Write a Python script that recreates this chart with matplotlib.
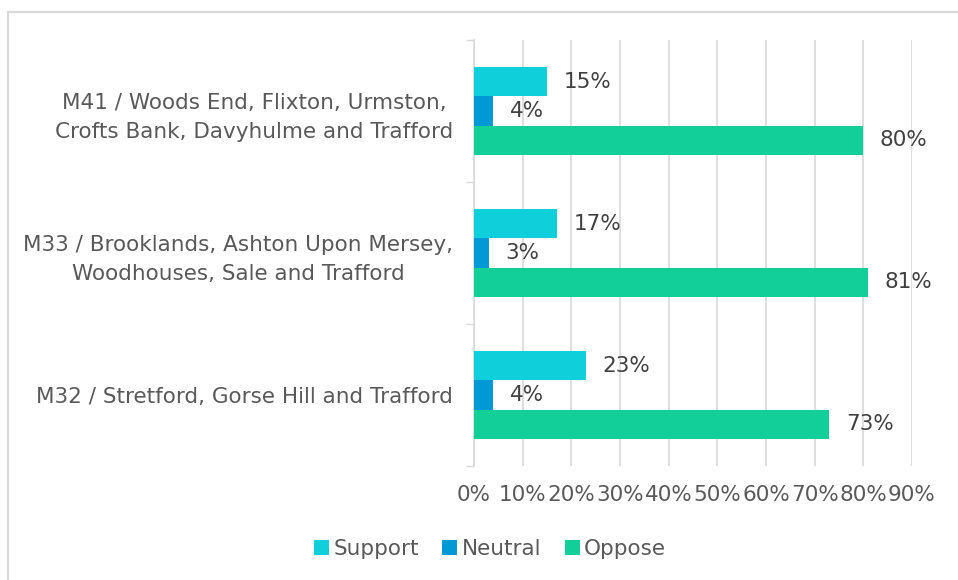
import matplotlib
matplotlib.use("Agg")
import matplotlib.pyplot as plt
from matplotlib.lines import Line2D
import numpy as np

# data
areas = ["M41 / Woods End, Flixton, Urmston,\nCrofts Bank, Davyhulme and Trafford",
         "M33 / Brooklands, Ashton Upon Mersey,\nWoodhouses, Sale and Trafford",
         "M32 / Stretford, Gorse Hill and Trafford"]
support = [15, 17, 23]
neutral = [4, 3, 4]
oppose = [80, 81, 73]
series_names = ["Support", "Neutral", "Oppose"]
colors = ["#0FCFDA", "#0099D6", "#12CF98"]

text_col = "#595959"
label_col = "#404040"
grid_col = "#D9D9D9"
fs = 15.5
plt.rcParams['font.family'] = ['DejaVu Sans']

fig = plt.figure(figsize=(9.58, 5.8), dpi=100)
ax = fig.add_axes([474/958, 1-466/580, (912-474)/958, (466-40)/580])

y = np.arange(len(areas))
h = 0.205
for k, (vals, name, c) in enumerate(zip([support, neutral, oppose], series_names, colors)):
    pos = y + (k-1)*h
    ax.barh(pos, vals, height=h, color=c, label=name, zorder=3)
    for p, v in zip(pos, vals):
        ax.annotate(f"{v}%", (v, p), xytext=(12, 0), textcoords="offset points",
                    va="center", ha="left", fontsize=fs, color=label_col)

ax.set_xlim(0, 90)
ax.set_ylim(2.5, -0.5)
ax.set_xticks(np.arange(0, 91, 10))
ax.set_xticklabels([f"{t}%" for t in range(0, 91, 10)])
ax.set_yticks(y)
ax.set_yticklabels(areas, multialignment="center", linespacing=1.55)
ax.set_yticks([-0.5, 0.5, 1.5, 2.5], minor=True)
ax.tick_params(axis="y", which="major", length=0, pad=15, labelsize=fs, labelcolor=text_col)
ax.tick_params(axis="y", which="minor", length=6, color=grid_col, width=1)
ax.tick_params(axis="x", length=0, pad=14, labelsize=fs, labelcolor=text_col)
ax.grid(axis="x", color=grid_col, lw=1.2, zorder=0)
for s in ["top", "right", "bottom"]:
    ax.spines[s].set_visible(False)
ax.spines["left"].set_color(grid_col)
ax.spines["left"].set_linewidth(1.2)

fig.legend(loc="center", bbox_to_anchor=(490/958, 1-549/580), ncol=3, frameon=False,
           fontsize=fs, labelcolor=text_col, handlelength=0.7, handleheight=0.7,
           handletextpad=0.2, columnspacing=1.1)

# chart frame (only top and left edges visible)
fig.add_artist(Line2D([8/958, 8/958], [0, 1-12/580], color=grid_col, lw=1.5))
fig.add_artist(Line2D([8/958, 1], [1-12/580, 1-12/580], color=grid_col, lw=1.5))

fig.savefig("out.png", dpi=100)
